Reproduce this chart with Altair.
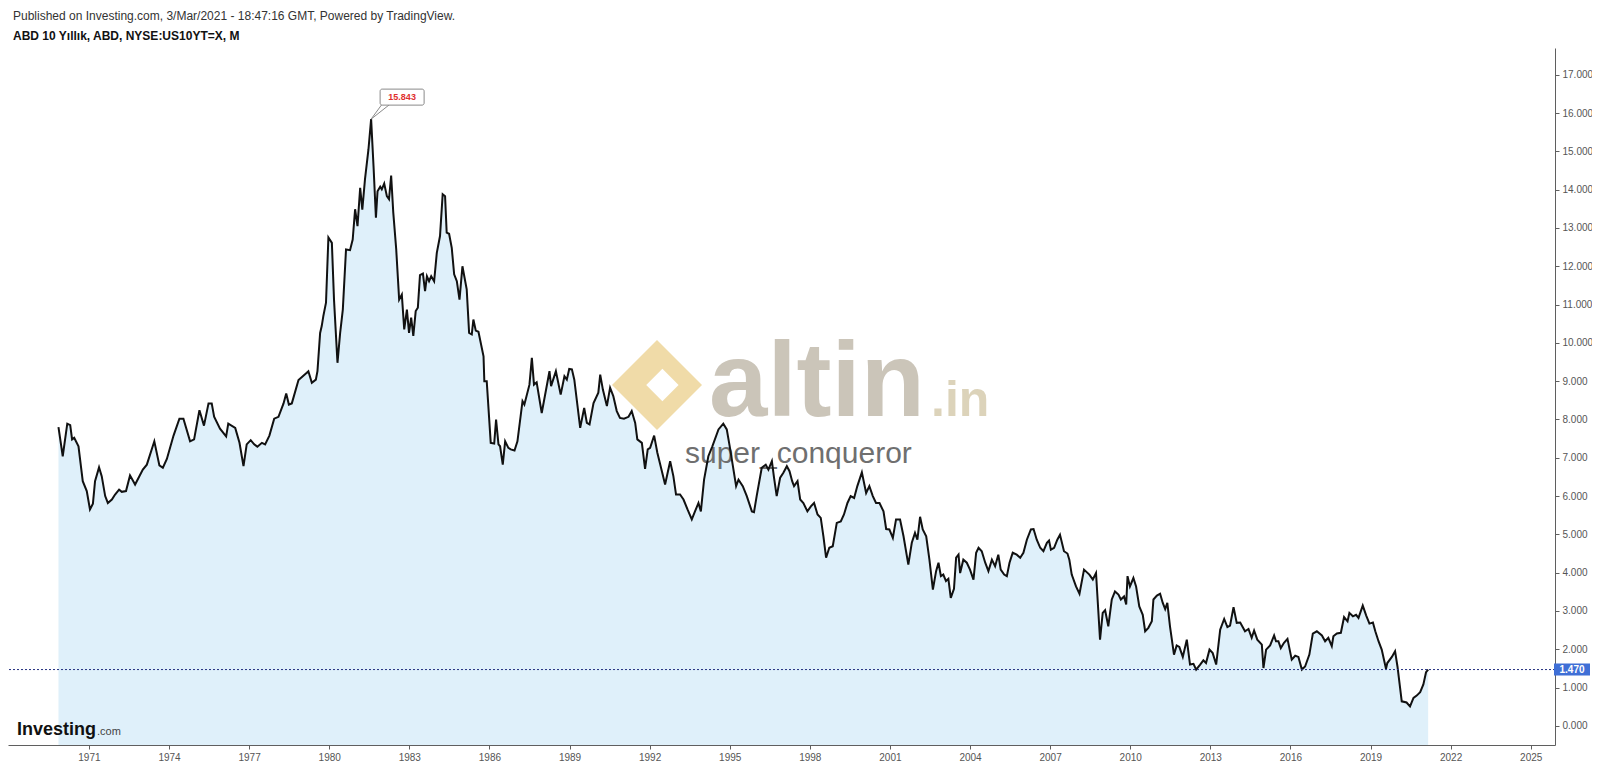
import altair as alt
import pandas as pd

header_1 = "Published on Investing.com, 3/Mar/2021 - 18:47:16 GMT, Powered by TradingView."
header_2 = "ABD 10 Yıllık, ABD, NYSE:US10YT=X, M"
brand_big = ["altin"]
brand_small = [".in"]
brand_user = ["super_conqueror"]
logo_main = ["Investing"]
logo_tail = [".com"]

# positions are decimal years (month start), values are yields in %
t_a = [1969.86, 1970.02, 1970.19, 1970.30, 1970.37, 1970.45, 1970.61, 1970.77, 1970.92, 1971.04,
       1971.15, 1971.23, 1971.38, 1971.48, 1971.61, 1971.71, 1971.86, 1971.98, 1972.13, 1972.23,
       1972.39, 1972.54, 1972.73, 1973.02, 1973.17, 1973.45, 1973.64, 1973.77, 1973.92, 1974.17,
       1974.39, 1974.54, 1974.79, 1974.94, 1975.14, 1975.31, 1975.48, 1975.60, 1975.69, 1975.91,
       1976.14, 1976.22, 1976.48, 1976.64, 1976.79, 1976.91, 1977.06, 1977.19, 1977.31, 1977.48,
       1977.60, 1977.76, 1977.94, 1978.10, 1978.29, 1978.39, 1978.49, 1978.60, 1978.85, 1979.16,
       1979.22, 1979.35, 1979.50, 1979.56]
v_a = [7.80, 7.04, 7.89, 7.85, 7.48, 7.52, 7.30, 6.39, 6.13, 5.65,
       5.80, 6.39, 6.75, 6.52, 6.00, 5.82, 5.91, 6.04, 6.17, 6.11,
       6.13, 6.54, 6.30, 6.69, 6.82, 7.43, 6.80, 6.74, 6.97, 7.58,
       8.02, 8.02, 7.43, 7.48, 8.24, 7.84, 8.42, 8.42, 8.07, 7.76,
       7.56, 7.89, 7.78, 7.39, 6.78, 7.35, 7.46, 7.35, 7.29, 7.39,
       7.35, 7.58, 8.02, 8.07, 8.42, 8.68, 8.39, 8.42, 9.03, 9.22,
       9.26, 8.96, 9.04, 9.26]

t_b = [1979.66, 1979.72, 1979.78, 1979.88, 1979.97, 1980.10, 1980.18, 1980.31, 1980.41, 1980.51,
       1980.63, 1980.78, 1980.88, 1980.97, 1981.06, 1981.16, 1981.24, 1981.34, 1981.47, 1981.57,
       1981.66, 1981.75, 1981.81, 1981.91, 1981.97, 1982.06, 1982.16, 1982.24, 1982.32, 1982.40,
       1982.51, 1982.62, 1982.72, 1982.81, 1982.91, 1982.99, 1983.07, 1983.15, 1983.24, 1983.32,
       1983.40, 1983.51, 1983.59, 1983.66, 1983.74, 1983.82, 1983.93, 1984.03, 1984.15, 1984.25,
       1984.34, 1984.40, 1984.49, 1984.59, 1984.68, 1984.78, 1984.88, 1984.99, 1985.15, 1985.24,
       1985.34, 1985.40, 1985.49, 1985.59, 1985.78, 1985.81, 1985.90, 1986.05, 1986.18, 1986.25,
       1986.34, 1986.40, 1986.50, 1986.59, 1986.71, 1986.80, 1986.94, 1987.05, 1987.24, 1987.31,
       1987.50, 1987.59, 1987.67, 1987.77, 1987.96, 1988.25, 1988.31, 1988.49, 1988.67, 1988.81,
       1988.90, 1988.99, 1989.09, 1989.18, 1989.40, 1989.55, 1989.65, 1989.75, 1989.90, 1990.08]
v_b = [10.26, 10.44, 10.70, 11.05, 12.75, 12.61, 11.13, 9.48, 10.26, 10.87,
       12.44, 12.42, 12.70, 13.49, 13.05, 14.05, 13.48, 14.27, 15.05, 15.843,
       14.62, 13.27, 13.96, 14.08, 14.01, 14.16, 13.83, 13.75, 14.37, 13.40,
       12.44, 11.13, 11.26, 10.35, 10.87, 10.26, 10.66, 10.18, 10.83, 10.92,
       11.77, 11.81, 11.35, 11.74, 11.61, 11.74, 11.61, 12.35, 12.79, 13.88,
       13.83, 12.88, 12.85, 12.48, 11.79, 11.61, 11.13, 12.00, 11.40, 10.26,
       10.22, 10.61, 10.32, 10.29, 9.65, 9.00, 9.00, 7.39, 7.37, 8.00,
       7.35, 7.30, 6.82, 7.43, 7.26, 7.22, 7.19, 7.43, 8.48, 8.39,
       8.91, 9.61, 8.91, 8.97, 8.17, 9.26, 8.87, 9.26, 8.65, 9.13,
       9.04, 9.32, 9.31, 9.04, 7.78, 8.30, 7.91, 7.87, 8.43, 8.70]

t_c = [1990.15, 1990.25, 1990.40, 1990.52, 1990.64, 1990.77, 1990.89, 1991.04, 1991.21, 1991.33,
       1991.46, 1991.54, 1991.71, 1991.83, 1991.93, 1992.02, 1992.17, 1992.29, 1992.46, 1992.58,
       1992.77, 1992.89, 1992.99, 1993.14, 1993.27, 1993.42, 1993.58, 1993.70, 1993.83, 1993.92,
       1994.04, 1994.20, 1994.35, 1994.58, 1994.76, 1994.89, 1995.01, 1995.12, 1995.24, 1995.33,
       1995.49, 1995.64, 1995.83, 1995.91, 1996.01, 1996.20, 1996.35, 1996.45, 1996.58, 1996.66,
       1996.76, 1996.89, 1997.01, 1997.14, 1997.24, 1997.34, 1997.41, 1997.54, 1997.64, 1997.76,
       1997.91, 1998.04, 1998.16, 1998.29, 1998.41, 1998.51, 1998.61, 1998.73, 1998.86, 1999.01,
       1999.16, 1999.28, 1999.41, 1999.53, 1999.66, 1999.78, 1999.95, 2000.11, 2000.23, 2000.36,
       2000.48, 2000.61]
v_c = [9.17, 8.78, 8.35, 8.83, 8.61, 8.22, 8.04, 8.02, 8.07, 8.22,
       7.91, 7.48, 7.39, 6.71, 7.22, 7.26, 7.58, 7.13, 6.65, 6.30,
       6.91, 6.52, 6.04, 6.04, 5.91, 5.65, 5.39, 5.60, 5.82, 5.60,
       6.43, 7.04, 7.30, 7.74, 7.89, 7.74, 7.26, 6.78, 6.26, 6.43,
       6.26, 6.00, 5.60, 5.58, 6.00, 6.74, 6.82, 6.69, 6.91, 6.48,
       6.00, 6.48, 6.61, 6.78, 6.65, 6.39, 6.26, 6.39, 5.91, 5.82,
       5.60, 5.73, 5.82, 5.52, 5.43, 4.95, 4.39, 4.65, 4.69, 5.30,
       5.34, 5.52, 5.82, 6.00, 5.95, 6.26, 6.62, 6.08, 6.26, 6.00,
       5.82, 5.82]

t_d = [2000.76, 2000.86, 2000.98, 2001.11, 2001.23, 2001.38, 2001.51, 2001.69, 2001.82, 2001.94,
       2002.03, 2002.13, 2002.23, 2002.36, 2002.48, 2002.61, 2002.73, 2002.82, 2002.91, 2003.00,
       2003.10, 2003.19, 2003.28, 2003.40, 2003.48, 2003.57, 2003.63, 2003.75, 2003.88, 2004.00,
       2004.13, 2004.23, 2004.32, 2004.44, 2004.57, 2004.69, 2004.82, 2004.94, 2005.06, 2005.15,
       2005.28, 2005.38, 2005.48, 2005.60, 2005.75, 2005.88, 2006.00, 2006.13, 2006.28, 2006.38,
       2006.50, 2006.63, 2006.75, 2006.88, 2006.96, 2007.03, 2007.15, 2007.27, 2007.37, 2007.52,
       2007.65, 2007.72, 2007.81, 2007.97, 2008.10, 2008.27, 2008.47, 2008.60, 2008.72, 2008.87,
       2008.97, 2009.06, 2009.18, 2009.31, 2009.43, 2009.56, 2009.65, 2009.77, 2009.85, 2009.90,
       2009.99, 2010.12, 2010.22, 2010.34, 2010.47, 2010.56, 2010.68, 2010.81]
v_d = [5.60, 5.14, 5.13, 4.91, 5.39, 5.39, 4.95, 4.21, 4.78, 5.04,
       4.86, 5.46, 5.13, 4.95, 4.34, 3.56, 4.04, 4.26, 3.91, 3.95,
       3.78, 3.84, 3.34, 3.58, 4.39, 4.47, 3.99, 4.34, 4.26, 4.08,
       3.82, 4.52, 4.65, 4.56, 4.26, 4.04, 4.34, 4.17, 4.47, 4.08,
       3.95, 3.91, 4.26, 4.52, 4.47, 4.39, 4.52, 4.86, 5.13, 5.14,
       4.86, 4.65, 4.56, 4.78, 4.84, 4.60, 4.65, 4.86, 4.99, 4.56,
       4.50, 4.34, 3.95, 3.64, 3.45, 4.08, 3.95, 3.82, 3.99, 2.25,
       2.95, 3.02, 2.60, 3.30, 3.51, 3.43, 3.30, 3.38, 3.17, 3.91,
       3.64, 3.86, 3.64, 3.12, 2.90, 2.47, 2.56, 2.73]

t_e = [2010.87, 2011.00, 2011.12, 2011.22, 2011.31, 2011.39, 2011.49, 2011.64, 2011.74, 2011.84,
       2011.97, 2012.12, 2012.24, 2012.37, 2012.47, 2012.62, 2012.74, 2012.84, 2012.97, 2013.09,
       2013.22, 2013.37, 2013.52, 2013.64, 2013.74, 2013.87, 2013.99, 2014.12, 2014.30, 2014.43,
       2014.55, 2014.64, 2014.76, 2014.93, 2014.99, 2015.09, 2015.24, 2015.39, 2015.46, 2015.55,
       2015.64, 2015.76, 2015.89, 2016.05, 2016.18, 2016.30, 2016.43, 2016.55, 2016.71, 2016.84,
       2016.99, 2017.18, 2017.30, 2017.42, 2017.55, 2017.61, 2017.74, 2017.89, 2018.01, 2018.14,
       2018.21, 2018.34, 2018.46, 2018.55, 2018.71, 2018.84, 2018.96, 2019.09, 2019.18, 2019.30,
       2019.42, 2019.58, 2019.63, 2019.80, 2019.92, 2020.01, 2020.17, 2020.35, 2020.48, 2020.61,
       2020.73, 2020.86, 2020.98, 2021.08, 2021.16]
v_e = [3.30, 3.40, 3.45, 3.21, 3.05, 3.21, 2.60, 1.86, 2.10, 2.06,
       1.80, 2.25, 1.60, 1.62, 1.47, 1.60, 1.71, 1.64, 1.99, 1.90,
       1.60, 2.51, 2.79, 2.58, 2.62, 3.10, 2.69, 2.70, 2.47, 2.53,
       2.30, 2.49, 2.25, 2.12, 1.51, 1.99, 2.10, 2.36, 2.21, 2.21,
       2.03, 2.17, 2.27, 1.73, 1.83, 1.80, 1.47, 1.55, 1.86, 2.41,
       2.47, 2.36, 2.21, 2.30, 2.08, 2.34, 2.41, 2.43, 2.84, 2.73,
       2.95, 2.86, 2.90, 2.82, 3.14, 2.88, 2.67, 2.70, 2.47, 2.21,
       1.99, 1.49, 1.64, 1.80, 1.95, 1.55, 0.64, 0.61, 0.51, 0.73,
       0.79, 0.88, 1.08, 1.40, 1.47]

x_ticks = list(range(1971, 2026, 3))
y_ticks = list(range(0, 18))
y_floor, y_ceil = -0.50, 17.70
x_start, x_end = 1967.97, 2025.91

df = pd.DataFrame({"t": t_a + t_b + t_c + t_d + t_e, "v": v_a + v_b + v_c + v_d + v_e})
peak_df = df.loc[[df["v"].idxmax()]]
last_df = df.tail(1)

W, H = 1547, 697
FONT = "Liberation Sans, Arial, sans-serif"

xscale = alt.Scale(domain=[x_start, x_end], nice=False, zero=False)
yscale = alt.Scale(domain=[y_floor, y_ceil], nice=False, zero=False)
xaxis = alt.Axis(values=x_ticks, format="d", title=None, grid=False, orient="bottom",
                 domainColor="#5f5f5f", tickColor="#5f5f5f", tickSize=4, labelPadding=3,
                 labelColor="#555555", labelFontSize=10,
                 labelFont="Liberation Sans Narrow, Liberation Sans, sans-serif")
yaxis = alt.Axis(values=y_ticks, format=".3f", title=None, grid=False, orient="right",
                 domainColor="#5f5f5f", tickColor="#5f5f5f", tickSize=4, labelPadding=3,
                 labelColor="#555555", labelFontSize=10, labelFont=FONT)

X = alt.X("t:Q", scale=xscale, axis=xaxis)
Y = alt.Y("v:Q", scale=yscale, axis=yaxis)

area = alt.Chart(df).mark_area(color="#dff0fa").encode(x=X, y=Y, y2=alt.datum(y_floor))
line = alt.Chart(df).mark_line(color="#111111", strokeWidth=2).encode(x=X, y=Y)

# watermark
icon_path = "M0,-1L1,0L0,1L-1,0Z M0.12,-0.36L-0.24,0L0.12,0.36L0.48,0Z"
icon = alt.Chart(pd.DataFrame({"k": ["icon"]})).mark_point(
    shape=icon_path, size=8100, filled=True, color="#f0dba8", opacity=1, strokeWidth=0
).encode(x=alt.value(649), y=alt.value(337))
wm_big = alt.Chart(pd.DataFrame({"s": brand_big})).mark_text(
    align="left", baseline="alphabetic", font=FONT, fontSize=105, fontWeight="bold", color="#cbc5b9"
).encode(x=alt.value(701), y=alt.value(368), text="s:N")
wm_small = alt.Chart(pd.DataFrame({"s": brand_small})).mark_text(
    align="left", baseline="alphabetic", font=FONT, fontSize=50, fontWeight="bold", color="#dcd3ba"
).encode(x=alt.value(923), y=alt.value(368), text="s:N")
wm_user = alt.Chart(pd.DataFrame({"s": brand_user})).mark_text(
    align="left", baseline="middle", font=FONT, fontSize=30, color="#6f6f6f"
).encode(x=alt.value(677), y=alt.value(406), text="s:N")

# last value line and tag
last_rule = alt.Chart(last_df).mark_rule(color="#24307f", strokeDash=[2, 2], strokeWidth=1).encode(y=Y)
tag_box = alt.Chart(last_df).mark_rect(color="#3f6fd6", yOffset=-6, y2Offset=6).encode(
    x=alt.value(W - 1), x2=alt.value(W + 35), y=Y, y2=alt.Y2("v"))
tag_text = alt.Chart(last_df).mark_text(
    color="white", font=FONT, fontSize=10, fontWeight="bold", align="center", baseline="middle"
).encode(x=alt.value(W + 17), y=Y, text=alt.Text("v:Q", format=".3f"))

# peak callout
pointer1 = alt.Chart(peak_df).mark_rule(color="#8a8a8a", strokeWidth=1, x2Offset=11, y2Offset=-15).encode(
    x=X, x2=alt.X2("t"), y=Y, y2=alt.Y2("v"))
pointer2 = alt.Chart(peak_df).mark_rule(color="#8a8a8a", strokeWidth=1, x2Offset=19, y2Offset=-15).encode(
    x=X, x2=alt.X2("t"), y=Y, y2=alt.Y2("v"))
peak_box = alt.Chart(peak_df).mark_rect(
    fill="white", stroke="#8a8a8a", strokeWidth=1, cornerRadius=2,
    xOffset=9, x2Offset=53, yOffset=-30, y2Offset=-14
).encode(x=X, x2=alt.X2("t"), y=Y, y2=alt.Y2("v"))
peak_text = alt.Chart(peak_df).mark_text(
    color="#e0302e", font=FONT, fontSize=9, fontWeight="bold", dx=31, dy=-22, baseline="middle"
).encode(x=X, y=Y, text=alt.Text("v:Q", format=".3f"))

# headers
head1 = alt.Chart(pd.DataFrame({"s": [header_1]})).mark_text(
    align="left", baseline="middle", font=FONT, fontSize=12, color="#333333"
).encode(x=alt.value(5), y=alt.value(-32), text="s:N")
head2 = alt.Chart(pd.DataFrame({"s": [header_2]})).mark_text(
    align="left", baseline="middle", font=FONT, fontSize=12, fontWeight="bold", color="#111111"
).encode(x=alt.value(5), y=alt.value(-12), text="s:N")

# Investing.com logo
logo1 = alt.Chart(pd.DataFrame({"s": logo_main})).mark_text(
    align="left", baseline="alphabetic", font=FONT, fontSize=18, fontWeight="bold", color="#111111"
).encode(x=alt.value(9), y=alt.value(687), text="s:N")
logo2 = alt.Chart(pd.DataFrame({"s": logo_tail})).mark_text(
    align="left", baseline="alphabetic", font=FONT, fontSize=11, color="#444444"
).encode(x=alt.value(89), y=alt.value(687), text="s:N")

chart = alt.layer(
    area, icon, wm_big, wm_small, wm_user, line, last_rule, tag_box, tag_text,
    pointer1, pointer2, peak_box, peak_text, head1, head2, logo1, logo2
).properties(
    width=W, height=H,
    autosize=alt.AutoSizeParams(type="none"),
    padding={"left": 0, "top": 40, "right": 37, "bottom": 18},
    background="white",
).configure_view(stroke=None)

chart.save("out.html", embed_options={"renderer": "svg", "actions": False})
